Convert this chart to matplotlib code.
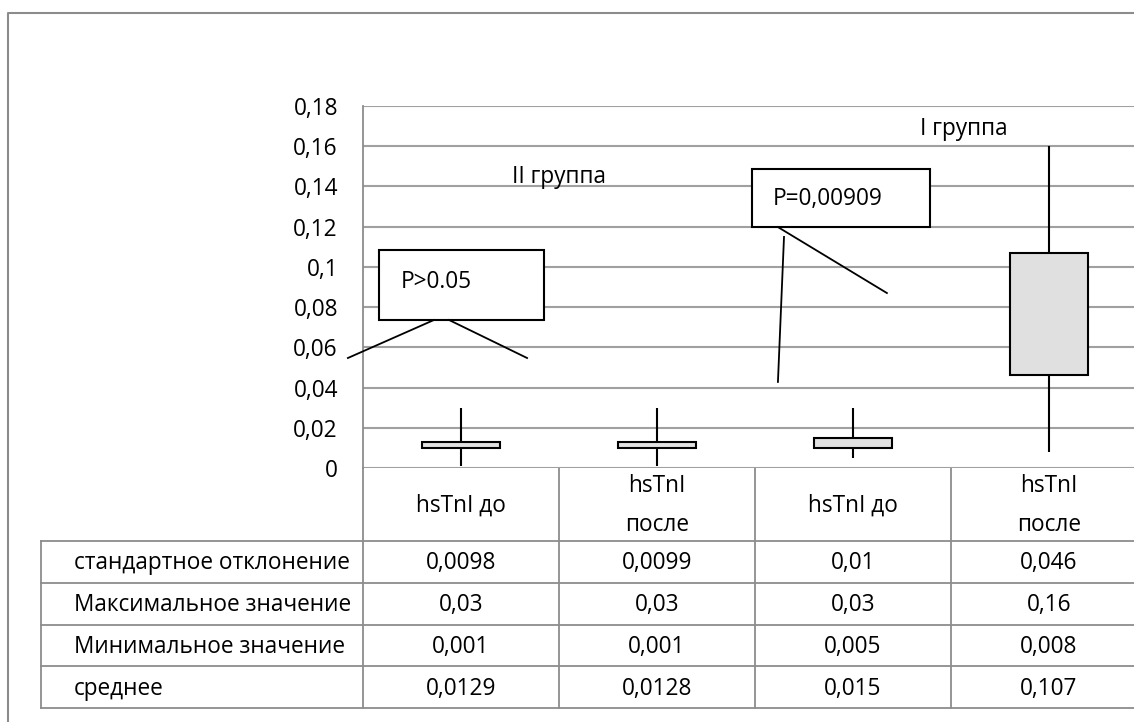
import matplotlib
matplotlib.use("Agg")
import matplotlib.pyplot as plt
from matplotlib.patches import Rectangle

# ---- data ----
categories = ["hsTnI до", "hsTnI\nпосле", "hsTnI до", "hsTnI\nпосле"]
row_labels = ["стандартное отклонение", "Максимальное значение",
              "Минимальное значение", "среднее"]
std_dev = [0.0098, 0.0099, 0.01, 0.046]
max_val = [0.03, 0.03, 0.03, 0.16]
min_val = [0.001, 0.001, 0.005, 0.008]
mean_val = [0.0129, 0.0128, 0.015, 0.107]
yticks = [0, 0.02, 0.04, 0.06, 0.08, 0.1, 0.12, 0.14, 0.16, 0.18]

def fmt(v):
    return str(v).replace(".", ",") if v != 0 else "0"

plt.rcParams["font.family"] = ["Open Sans", "DejaVu Sans"]
FS = 16.3
W, H = 1134, 722
fig = plt.figure(figsize=(W / 100, H / 100), dpi=100)

# layout in pixels
L, R, T, B = 363, 363 + 4 * 196, 106, 468
ax = fig.add_axes([L / W, 1 - B / H, (R - L) / W, (B - T) / H])
ax.set_xlim(0, 4)
ax.set_ylim(0, 0.18)
for s in ["top", "right", "bottom"]:
    ax.spines[s].set_visible(False)
ax.spines["left"].set_color("#8c8c8c")
ax.spines["left"].set_linewidth(1.3)
ax.set_xticks([])
ax.set_yticks(yticks)
ax.set_yticklabels([fmt(v) for v in yticks], fontsize=FS)
ax.tick_params(axis="y", length=0, pad=18)
for y in yticks:
    ax.axhline(y, color="#a0a0a0", lw=1.5, zorder=0)

x = [i + 0.5 for i in range(len(categories))]
ax.vlines(x, min_val, max_val, color="black", lw=1.5, zorder=2)
ax.bar(x, [m - s for m, s in zip(mean_val, std_dev)], bottom=std_dev, width=0.4,
       color="#e0e0e0", edgecolor="black", linewidth=1.5, zorder=3)

# annotations
ax.add_patch(Rectangle((0.082, 0.0736), 0.841, 0.0348, fill=True, facecolor="white",
                       edgecolor="black", lw=1.5, clip_on=False, zorder=4))
ax.text(0.194, 0.0925, "P>0.05", fontsize=FS, va="center", ha="left", zorder=5)
ax.plot([0.362, -0.077], [0.0736, 0.0547], color="black", lw=1.3, clip_on=False, zorder=4)
ax.plot([0.439, 0.837], [0.0736, 0.0547], color="black", lw=1.3, clip_on=False, zorder=4)

ax.add_patch(Rectangle((1.985, 0.1198), 0.908, 0.0289, fill=True, facecolor="white",
                       edgecolor="black", lw=1.5, clip_on=False, zorder=4))
ax.text(2.092, 0.1338, "P=0,00909", fontsize=FS, va="center", ha="left", zorder=5)
ax.plot([2.117, 2.673], [0.1198, 0.0870], color="black", lw=1.3, clip_on=False, zorder=4)
ax.plot([2.148, 2.117], [0.1149, 0.0428], color="black", lw=1.3, clip_on=False, zorder=4)

ax.text(0.76, 0.1447, "II группа", fontsize=FS, va="center", ha="left")
ax.text(2.842, 0.1685, "I группа", fontsize=FS, va="center", ha="left")

# overlay for table and frame (pixel coordinates)
ov = fig.add_axes([0, 0, 1, 1], zorder=-1)
ov.set_xlim(0, W)
ov.set_ylim(H, 0)
ov.axis("off")
ov.patch.set_alpha(0)
gray = "#8c8c8c"
# outer frame
ov.plot([8, 8, W + 5], [H + 5, 13, 13], color=gray, lw=1.5)

tab_left = 41
hdr_bottom = 541
row_h = 41.75
col_w = 196
rows_y = [hdr_bottom + i * row_h for i in range(len(row_labels) + 1)]
for y in rows_y:
    ov.plot([tab_left, W + 5], [y, y], color=gray, lw=1.3)
ov.plot([tab_left, tab_left], [hdr_bottom, rows_y[-1]], color=gray, lw=1.3)
ov.plot([L, L], [B, rows_y[-1]], color=gray, lw=1.3)
for i in range(1, len(categories) + 1):
    xc = L + i * col_w
    ov.plot([xc, xc], [B, rows_y[-1]], color=gray, lw=1.3)

for i, c in enumerate(categories):
    xc = L + (i + 0.5) * col_w
    ov.text(xc, (B + hdr_bottom) / 2 + 1, c, fontsize=FS, ha="center", va="center",
            linespacing=1.8)

series = [std_dev, max_val, min_val, mean_val]
for r, (lab, vals) in enumerate(zip(row_labels, series)):
    yc = rows_y[r] + row_h / 2 + 1.5
    ov.text(74, yc, lab, fontsize=FS, ha="left", va="center")
    for i, v in enumerate(vals):
        xc = L + (i + 0.5) * col_w
        ov.text(xc, yc, fmt(v), fontsize=FS, ha="center", va="center")

fig.savefig("out.png", dpi=100)
